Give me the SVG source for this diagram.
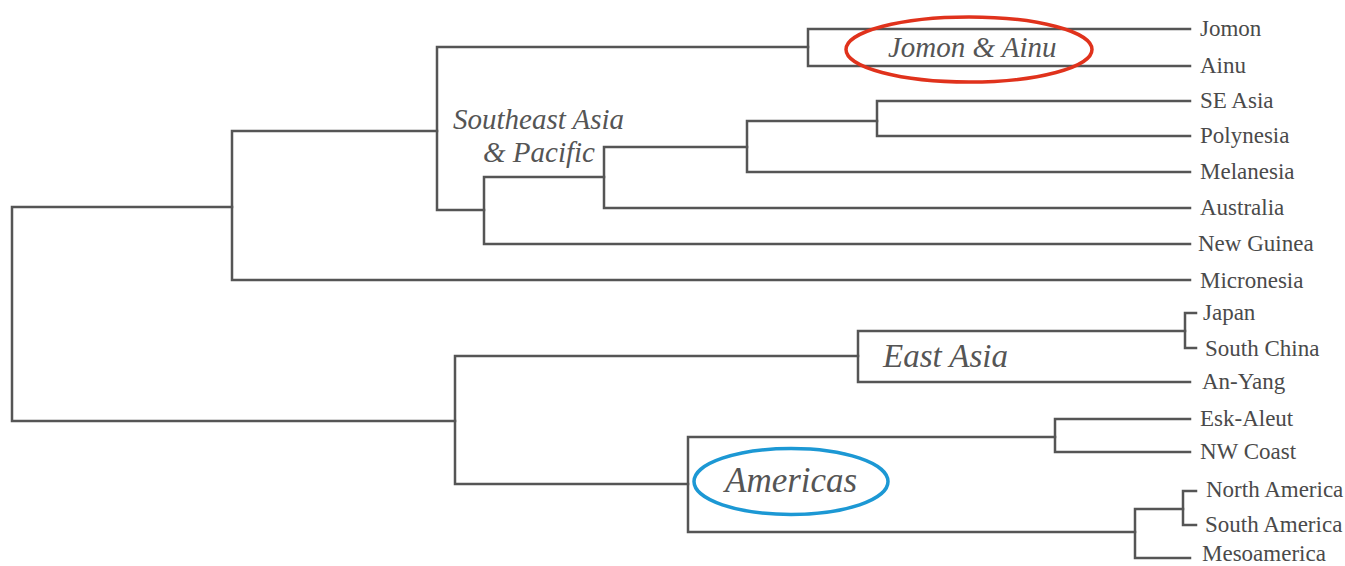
<svg xmlns="http://www.w3.org/2000/svg" width="1345" height="566" viewBox="0 0 1345 566">
<style>
.e{fill:none;stroke:#555;stroke-width:2.5;stroke-linecap:square}
.leaf{font-family:"Liberation Serif",serif;font-size:23px;fill:#4a4a4a}
.grp{font-family:"Liberation Serif",serif;font-style:italic;fill:#555}
.ring{fill:none;stroke-width:3.5}
</style>
<rect width="1345" height="566" fill="#fff"/>
<g id="connectors">
<path class="e" d="M232,207 H12 V421 H455"/>
<path class="e" d="M437,131 H232 V280 H1190"/>
<path class="e" d="M808,47 H437 V210 H484"/>
<path class="e" d="M1190,29 H808 V66 H1190"/>
<path class="e" d="M604,177 H484 V244 H1190"/>
<path class="e" d="M747,147 H604 V208 H1190"/>
<path class="e" d="M877,121 H747 V172 H1190"/>
<path class="e" d="M1190,101 H877 V136 H1190"/>
<path class="e" d="M858,356 H455 V484 H688"/>
<path class="e" d="M1185,331 H858 V382 H1190"/>
<path class="e" d="M1196,313 H1185 V348 H1196"/>
<path class="e" d="M1055,437 H688 V532 H1135"/>
<path class="e" d="M1190,419 H1055 V452 H1190"/>
<path class="e" d="M1183,509 H1135 V558 H1190"/>
<path class="e" d="M1196,491 H1183 V525 H1196"/>
</g>
<g id="leaf-jomon"><text class="leaf" x="1200" y="36">Jomon</text></g>
<g id="leaf-ainu"><text class="leaf" x="1200" y="73">Ainu</text></g>
<g id="leaf-seasia"><text class="leaf" x="1200" y="108">SE Asia</text></g>
<g id="leaf-polynesia"><text class="leaf" x="1200" y="143">Polynesia</text></g>
<g id="leaf-melanesia"><text class="leaf" x="1200" y="179">Melanesia</text></g>
<g id="leaf-australia"><text class="leaf" x="1200" y="215">Australia</text></g>
<g id="leaf-newguinea"><text class="leaf" x="1198" y="251" font-size="21">New Guinea</text></g>
<g id="leaf-micronesia"><text class="leaf" x="1200" y="288" font-size="22">Micronesia</text></g>
<g id="leaf-japan"><text class="leaf" x="1203" y="320" font-size="22">Japan</text></g>
<g id="leaf-southchina"><text class="leaf" x="1205" y="356" font-size="21">South China</text></g>
<g id="leaf-anyang"><text class="leaf" x="1202" y="389" font-size="22">An-Yang</text></g>
<g id="leaf-eskaleut"><text class="leaf" x="1200" y="426">Esk-Aleut</text></g>
<g id="leaf-nwcoast"><text class="leaf" x="1200" y="459" font-size="22">NW Coast</text></g>
<g id="leaf-northamerica"><text class="leaf" x="1206" y="497" font-size="22">North America</text></g>
<g id="leaf-southamerica"><text class="leaf" x="1205" y="532" font-size="22">South America</text></g>
<g id="leaf-mesoamerica"><text class="leaf" x="1202" y="561" font-size="22">Mesoamerica</text></g>
<g id="group-sea"><text class="grp" x="453" y="129" font-size="29">Southeast Asia</text><text class="grp" x="483" y="162" font-size="29">&amp; Pacific</text></g>
<g id="group-jomonainu"><ellipse class="ring" cx="969" cy="49.5" rx="123" ry="32.5" stroke="#e0321c"/><text class="grp" x="888" y="57" font-size="29">Jomon &amp; Ainu</text></g>
<g id="group-eastasia"><text class="grp" x="883" y="367" font-size="33">East Asia</text></g>
<g id="group-americas"><ellipse class="ring" cx="791" cy="481.5" rx="97" ry="33" stroke="#1c98d4"/><text class="grp" x="725" y="492" font-size="35">Americas</text></g>
</svg>
